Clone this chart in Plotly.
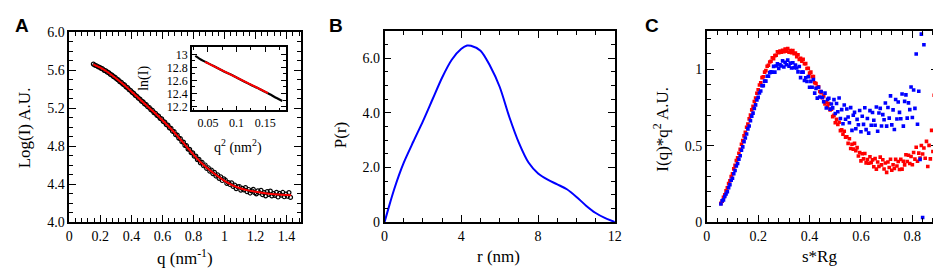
import plotly.graph_objects as go

W, H = 941, 274
SERIF = "Liberation Serif, Times New Roman, Times, DejaVu Serif, serif"
SANS = "Liberation Sans, Arial, Helvetica, sans-serif"

# ---------------- Panel A data ----------------
q_data = [
    0.155, 0.165, 0.175, 0.185, 0.195, 0.205, 0.215, 0.225, 0.235, 0.245,
    0.255, 0.265, 0.275, 0.285, 0.295, 0.305, 0.315, 0.325, 0.335, 0.345,
    0.355, 0.365, 0.375, 0.385, 0.395, 0.405, 0.415, 0.425, 0.435, 0.445,
    0.455, 0.465, 0.475, 0.485, 0.495, 0.505, 0.515, 0.525, 0.535, 0.545,
    0.555, 0.565, 0.575, 0.585, 0.595, 0.605, 0.615, 0.625, 0.635, 0.645,
    0.655, 0.665, 0.675, 0.685, 0.695, 0.705, 0.715, 0.725, 0.735, 0.745,
    0.755, 0.765, 0.775, 0.785, 0.795, 0.805, 0.815, 0.825, 0.835, 0.845,
    0.855, 0.865, 0.875, 0.885, 0.895, 0.905, 0.915, 0.925, 0.935, 0.945,
    0.955, 0.965, 0.975, 0.985, 0.995, 1.005, 1.015, 1.025, 1.035, 1.045,
    1.055, 1.065, 1.075, 1.085, 1.095, 1.105, 1.115, 1.125, 1.135, 1.145,
    1.155, 1.165, 1.175, 1.185, 1.195, 1.205, 1.215, 1.225, 1.235, 1.245,
    1.255, 1.265, 1.275, 1.285, 1.295, 1.305, 1.315, 1.325, 1.335, 1.345,
    1.355, 1.365, 1.375, 1.385, 1.395, 1.405, 1.415, 1.425,
]
logI_data = [
    5.662, 5.650, 5.645, 5.634, 5.629, 5.617, 5.611, 5.597, 5.591, 5.577,
    5.570, 5.554, 5.546, 5.530, 5.522, 5.505, 5.497, 5.478, 5.469, 5.451,
    5.443, 5.423, 5.414, 5.393, 5.384, 5.364, 5.354, 5.333, 5.324, 5.303,
    5.294, 5.273, 5.265, 5.243, 5.235, 5.213, 5.205, 5.183, 5.175, 5.152,
    5.145, 5.122, 5.114, 5.091, 5.085, 5.058, 5.052, 5.024, 5.019, 4.991,
    4.986, 4.955, 4.951, 4.919, 4.915, 4.883, 4.878, 4.845, 4.841, 4.806,
    4.803, 4.768, 4.765, 4.730, 4.727, 4.692, 4.693, 4.657, 4.660, 4.622,
    4.628, 4.592, 4.600, 4.563, 4.571, 4.535, 4.546, 4.510, 4.522, 4.484,
    4.497, 4.460, 4.476, 4.437, 4.455, 4.442, 4.406, 4.416, 4.395, 4.412,
    4.374, 4.389, 4.352, 4.371, 4.374, 4.335, 4.353, 4.338, 4.362, 4.319,
    4.342, 4.305, 4.328, 4.343, 4.308, 4.297, 4.328, 4.308, 4.334, 4.288,
    4.310, 4.276, 4.319, 4.291, 4.325, 4.275, 4.298, 4.281, 4.312, 4.263,
    4.301, 4.282, 4.311, 4.266, 4.293, 4.271, 4.310, 4.259,
]
q_fit = [0.155, 0.20, 0.25, 0.30, 0.35, 0.40, 0.45, 0.50, 0.55, 0.60, 0.65, 0.70,
         0.75, 0.80, 0.85, 0.90, 0.95, 1.00, 1.05, 1.10, 1.15, 1.20, 1.25, 1.30,
         1.35, 1.40, 1.43]
logI_fit = [5.660, 5.624, 5.574, 5.514, 5.447, 5.374, 5.299, 5.224, 5.149, 5.072,
            4.989, 4.899, 4.804, 4.710, 4.624, 4.552, 4.490, 4.434, 4.389, 4.355,
            4.333, 4.318, 4.305, 4.296, 4.290, 4.285, 4.282]

# Inset (Guinier plot)
q2_ins = [0.028, 0.035, 0.042, 0.05, 0.06, 0.07, 0.08, 0.09, 0.10, 0.11, 0.12,
          0.13, 0.14, 0.15, 0.16, 0.17, 0.18]
lnI_ins = [12.975, 12.935, 12.90, 12.865, 12.82, 12.775, 12.73, 12.69, 12.645,
           12.60, 12.555, 12.51, 12.47, 12.425, 12.38, 12.33, 12.285]
q2_ins_fit = [0.045, 0.155]
lnI_ins_fit = [12.885, 12.405]

# ---------------- Panel B data ----------------
r_nm = [0, 0.25, 0.5, 0.75, 1.0, 1.5, 2.0, 2.5, 3.0, 3.5, 4.0, 4.3, 4.5, 5.0, 5.5,
        6.0, 6.5, 7.0, 7.5, 8.0, 8.5, 9.0, 9.5, 10.0, 10.5, 11.0, 11.5, 12.0]
p_r = [0, 0.62, 1.2, 1.72, 2.18, 2.95, 3.7, 4.5, 5.3, 5.95, 6.35, 6.47, 6.46,
       6.28, 5.72, 4.95, 3.85, 2.9, 2.18, 1.78, 1.55, 1.38, 1.2, 0.92, 0.6, 0.33,
       0.14, 0]

# ---------------- Panel C data ----------------
s_rg = [
    0.055, 0.060, 0.065, 0.070, 0.075, 0.080, 0.085, 0.090, 0.095, 0.100,
    0.105, 0.110, 0.115, 0.120, 0.125, 0.130, 0.135, 0.140, 0.145, 0.150,
    0.155, 0.160, 0.165, 0.170, 0.175, 0.180, 0.185, 0.190, 0.195, 0.200,
    0.205, 0.210, 0.215, 0.220, 0.225, 0.230, 0.235, 0.240, 0.245, 0.250,
    0.255, 0.260, 0.265, 0.270, 0.275, 0.280, 0.285, 0.290, 0.295, 0.300,
    0.305, 0.310, 0.315, 0.320, 0.325, 0.330, 0.335, 0.340, 0.345, 0.350,
    0.355, 0.360, 0.365, 0.370, 0.375, 0.380, 0.385, 0.390, 0.395, 0.400,
    0.405, 0.410, 0.415, 0.420, 0.425, 0.430, 0.435, 0.440, 0.445, 0.450,
    0.455, 0.460, 0.465, 0.470, 0.475, 0.480, 0.485, 0.490, 0.495, 0.500,
    0.505, 0.510, 0.515, 0.520, 0.525, 0.530, 0.535, 0.540, 0.545, 0.550,
    0.555, 0.560, 0.565, 0.570, 0.575, 0.580, 0.585, 0.590, 0.595, 0.600,
    0.605, 0.610, 0.615, 0.620, 0.625, 0.630, 0.635, 0.640, 0.645, 0.650,
    0.655, 0.660, 0.665, 0.670, 0.675, 0.680, 0.685, 0.690, 0.695, 0.700,
    0.705, 0.710, 0.715, 0.720, 0.725, 0.730, 0.735, 0.740, 0.745, 0.750,
    0.755, 0.760, 0.765, 0.770, 0.775, 0.780, 0.785, 0.790, 0.795, 0.800,
    0.805, 0.810, 0.815, 0.820, 0.825, 0.830, 0.835, 0.840, 0.845, 0.850,
    0.855, 0.860, 0.865, 0.870, 0.875, 0.880, 0.885, 0.890, 0.895, 0.900,
]
kratky_red = [
    0.122, 0.136, 0.161, 0.178, 0.204, 0.224, 0.251, 0.270, 0.297, 0.316,
    0.348, 0.371, 0.402, 0.421, 0.450, 0.476, 0.509, 0.533, 0.564, 0.587,
    0.620, 0.642, 0.675, 0.700, 0.734, 0.758, 0.789, 0.812, 0.843, 0.866,
    0.897, 0.911, 0.945, 0.951, 0.981, 0.991, 1.020, 1.026, 1.048, 1.052,
    1.075, 1.069, 1.089, 1.092, 1.115, 1.108, 1.120, 1.111, 1.124, 1.115,
    1.132, 1.119, 1.136, 1.111, 1.122, 1.108, 1.122, 1.102, 1.106, 1.083,
    1.095, 1.064, 1.071, 1.053, 1.065, 1.036, 1.037, 1.005, 1.007, 0.975,
    0.981, 0.952, 0.953, 0.912, 0.907, 0.882, 0.885, 0.854, 0.847, 0.813,
    0.825, 0.773, 0.785, 0.755, 0.775, 0.733, 0.738, 0.690, 0.698, 0.650,
    0.673, 0.638, 0.653, 0.598, 0.603, 0.575, 0.594, 0.556, 0.558, 0.515,
    0.545, 0.481, 0.509, 0.477, 0.515, 0.467, 0.487, 0.432, 0.455, 0.400,
    0.447, 0.413, 0.449, 0.387, 0.409, 0.385, 0.427, 0.389, 0.407, 0.362,
    0.415, 0.346, 0.393, 0.364, 0.425, 0.374, 0.408, 0.347, 0.386, 0.325,
    0.393, 0.357, 0.411, 0.339, 0.375, 0.350, 0.410, 0.367, 0.396, 0.344,
    0.410, 0.346, 0.398, 0.374, 0.440, 0.396, 0.437, 0.383, 0.429, 0.375,
    0.455, 0.412, 0.489, 0.398, 0.451, 0.419, 0.501, 0.445, 0.485, 0.417,
    0.528, 0.363, 0.502, 0.413, 0.600, 0.462, 0.830, 0.210, 0.680, 0.110,
]
kratky_blue = [
    0.118, 0.139, 0.145, 0.167, 0.183, 0.198, 0.225, 0.245, 0.273, 0.286,
    0.316, 0.337, 0.367, 0.383, 0.411, 0.434, 0.470, 0.492, 0.525, 0.550,
    0.576, 0.610, 0.629, 0.664, 0.693, 0.713, 0.743, 0.767, 0.799, 0.816,
    0.845, 0.858, 0.892, 0.893, 0.922, 0.922, 0.954, 0.954, 0.978, 0.984,
    0.980, 1.019, 0.981, 1.021, 1.035, 1.005, 1.029, 1.021, 1.055, 1.015,
    1.045, 1.030, 1.060, 1.020, 1.040, 1.008, 1.043, 1.010, 1.028, 1.008,
    0.983, 1.018, 0.945, 0.981, 0.981, 0.926, 0.944, 0.920, 0.952, 0.882,
    0.921, 0.882, 0.933, 0.844, 0.875, 0.811, 0.882, 0.818, 0.854, 0.815,
    0.787, 0.844, 0.746, 0.803, 0.810, 0.739, 0.773, 0.747, 0.801, 0.710,
    0.776, 0.722, 0.812, 0.678, 0.736, 0.643, 0.766, 0.673, 0.740, 0.687,
    0.650, 0.749, 0.600, 0.699, 0.718, 0.611, 0.672, 0.637, 0.730, 0.591,
    0.692, 0.639, 0.748, 0.605, 0.678, 0.582, 0.729, 0.633, 0.717, 0.666,
    0.633, 0.753, 0.594, 0.714, 0.744, 0.629, 0.703, 0.669, 0.779, 0.628,
    0.750, 0.680, 0.826, 0.636, 0.734, 0.606, 0.802, 0.674, 0.786, 0.718,
    0.676, 0.838, 0.628, 0.790, 0.832, 0.680, 0.780, 0.736, 0.884, 0.684,
    0.864, 0.744, 1.100, 0.640, 0.856, 0.410, 1.230, 0.030, 1.160,
]
s_rg_blue = s_rg[:len(kratky_blue)]

# ---------------- helpers ----------------
def px_x(p):
    return p / W

def px_y(p):
    return 1 - p / H

def axis(domain, rng, anchor, dtick=None, minor_dtick=None, size=14, **kw):
    d = dict(
        domain=domain, range=rng, anchor=anchor, showline=True, linewidth=1.5,
        linecolor="black", mirror="allticks", ticks="inside", ticklen=7,
        tickwidth=1.3, tickcolor="black", showgrid=False, zeroline=False,
        tickfont=dict(family=SERIF, size=size, color="black"),
    )
    if dtick is not None:
        d.update(tick0=0, dtick=dtick)
    if minor_dtick is not None:
        d["minor"] = dict(ticks="inside", ticklen=4, tickwidth=1.1,
                          tickcolor="black", dtick=minor_dtick, showgrid=False)
    d.update(kw)
    return d

fig = go.Figure()

# Panel A main
fig.add_trace(go.Scatter(x=q_data, y=logI_data, mode="markers", xaxis="x", yaxis="y",
                         marker=dict(symbol="circle-open", size=4, color="black",
                                     line=dict(width=1.2, color="black")),
                         showlegend=False))
fig.add_trace(go.Scatter(x=q_fit, y=logI_fit, mode="lines", xaxis="x", yaxis="y",
                         line=dict(color="#ff0000", width=2, shape="spline"),
                         showlegend=False))
# Panel A inset
fig.add_trace(go.Scatter(x=q2_ins, y=lnI_ins, mode="lines", xaxis="x2", yaxis="y2",
                         line=dict(color="black", width=2.2, shape="spline"),
                         showlegend=False))
fig.add_trace(go.Scatter(x=q2_ins_fit, y=lnI_ins_fit, mode="lines", xaxis="x2", yaxis="y2",
                         line=dict(color="#ff0000", width=2),
                         showlegend=False))
# Panel B
fig.add_trace(go.Scatter(x=r_nm, y=p_r, mode="lines", xaxis="x3", yaxis="y3",
                         line=dict(color="#0000ff", width=2, shape="spline", smoothing=0.8),
                         showlegend=False))
# Panel C
fig.add_trace(go.Scatter(x=s_rg, y=kratky_red, mode="markers", xaxis="x4", yaxis="y4",
                         marker=dict(symbol="square", size=3.6, color="#ff0000",
                                     line=dict(width=0)),
                         showlegend=False))
fig.add_trace(go.Scatter(x=s_rg_blue, y=kratky_blue, mode="markers", xaxis="x4", yaxis="y4",
                         marker=dict(symbol="square", size=3.6, color="#0000ff",
                                     line=dict(width=0)),
                         showlegend=False))

# Domains (pixel boxes)
A_x = [px_x(58), px_x(292)]
A_y = [px_y(219), px_y(18)]
I_x = [px_x(182), px_x(277)]
I_y = [px_y(101), px_y(34)]
B_x = [px_x(377), px_x(610)]
B_y = [px_y(219), px_y(17)]
C_x = [px_x(703), px_x(937)]
C_y = [px_y(219), px_y(17)]

fig.update_layout(
    width=W, height=H, margin=dict(l=0, r=0, t=0, b=0),
    paper_bgcolor="white", plot_bgcolor="white",
    font=dict(family=SERIF, color="black"),
    xaxis=axis(A_x, [0, 1.49], "y", dtick=0.2, minor_dtick=0.04),
    yaxis=axis(A_y, [4.0, 6.0], "x", dtick=0.4, minor_dtick=0.1, tickformat=".1f"),
    xaxis2=axis(I_x, [0.022, 0.186], "y2", size=12, ticklen=5,
                tickvals=[0.05, 0.1, 0.15], ticktext=["0.05", "0.1", "0.15"],
                minor=dict(ticks="inside", ticklen=3, tickwidth=1, tickcolor="black",
                           tickvals=[0.025, 0.075, 0.125, 0.175], showgrid=False)),
    yaxis2=axis(I_y, [12.14, 13.11], "x2", size=12, ticklen=5,
                tickvals=[12.2, 12.4, 12.6, 12.8, 13.0],
                ticktext=["12.2", "12.4", "12.6", "12.8", "13"],
                minor=dict(ticks="inside", ticklen=3, tickwidth=1, tickcolor="black",
                           tickvals=[12.3, 12.5, 12.7, 12.9, 13.1], showgrid=False)),
    xaxis3=axis(B_x, [0, 12], "y3", dtick=4, minor_dtick=1),
    yaxis3=axis(B_y, [0, 7], "x3", minor_dtick=0.5,
                tickvals=[0, 2, 4, 6], ticktext=["0", "2.0", "4.0", "6.0"]),
    xaxis4=axis(C_x, [0, 0.9], "y4", dtick=0.2, minor_dtick=0.04),
    yaxis4=axis(C_y, [0, 1.25], "x4", dtick=0.5, minor_dtick=0.1),
)

def ann(text, x, y, size=17, angle=0, family=SERIF, bold=False):
    fig.add_annotation(text=("<b>%s</b>" % text) if bold else text,
                       x=px_x(x), y=px_y(y), xref="paper", yref="paper",
                       xanchor="center", yanchor="middle", showarrow=False,
                       textangle=angle, font=dict(family=family, size=size, color="black"))

# panel letters
ann("A", 10, 11, size=19, family=SANS, bold=True)
ann("B", 328, 11, size=19, family=SANS, bold=True)
ann("C", 648, 11, size=19, family=SANS, bold=True)
# axis titles
ann("Log(I) A.U.", 13, 119, angle=-90)
ann("q (nm<sup>-1</sup>)", 175, 256)
ann("P(r)", 332, 127, angle=-90)
ann("r (nm)", 492, 255)
ann("I(q)*q<sup>2</sup> A.U.", 657, 121, angle=-90)
ann("s*Rg", 817, 255)
# inset titles
ann("ln(I)", 134, 67, size=14, angle=-90)
ann("q<sup>2</sup> (nm<sup>2</sup>)", 229, 139, size=14)

fig.write_html("out.html")
